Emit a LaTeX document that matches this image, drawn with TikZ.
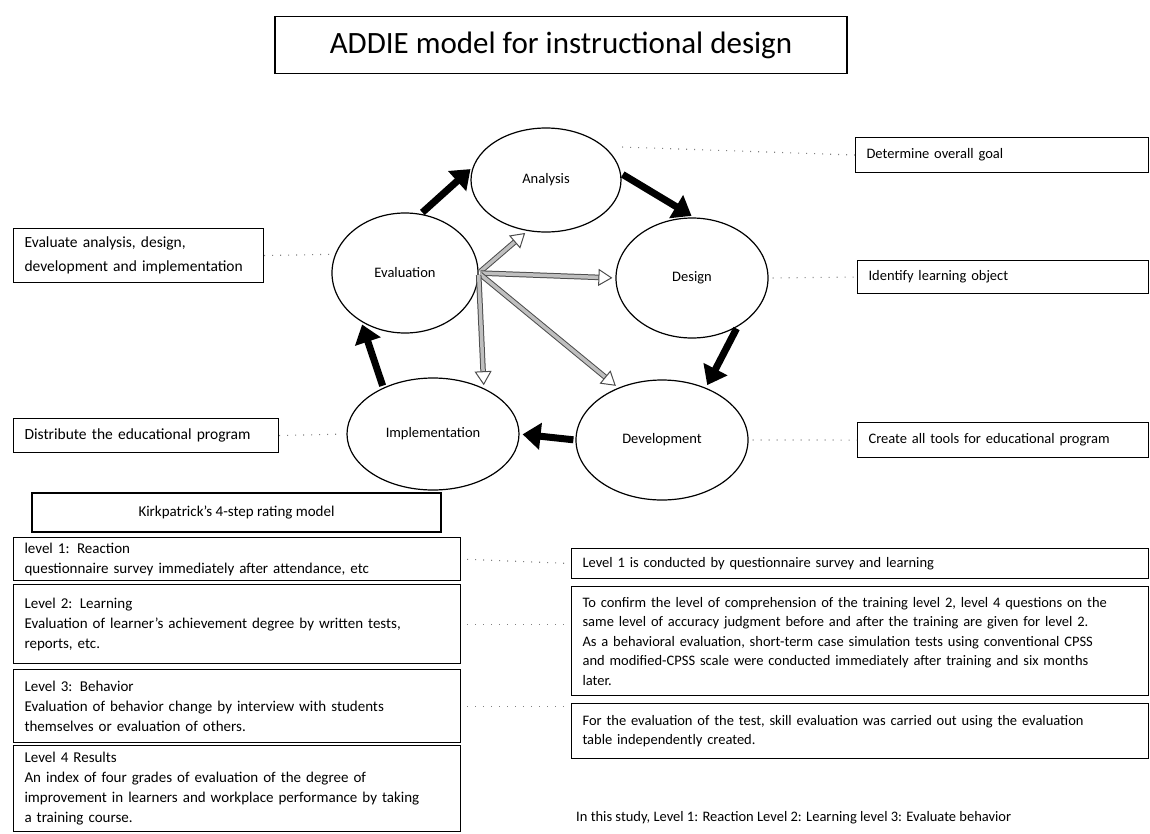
\documentclass[tikz,border=0pt]{standalone}
\usepackage{fontspec}
\setmainfont{Carlito}
\usetikzlibrary{shapes.geometric,arrows.meta}

\begin{document}
\begin{tikzpicture}[x=1pt,y=-1pt,
  phase/.style={ellipse, draw, line width=1.2pt, inner sep=0pt, font=\fontsize{14.5}{16}\selectfont},
  infobox/.style={draw, line width=1.1pt, anchor=north west, align=left, inner xsep=11pt, inner ysep=0pt, font=\fontsize{15}{20}\selectfont},
  link/.style={gray, line width=1.1pt, dash pattern=on 1pt off 7pt},
  cyclearrow/.style={line width=7pt, -{Triangle[length=18pt,width=26pt]}, shorten <=2pt, shorten >=3pt},
  feedback/.style={draw=black!70, double=gray!50, double distance=3.5pt, line width=1pt, -{Triangle[open,length=14pt,width=17pt]}, shorten <=2pt, shorten >=3pt}]

\useasboundingbox (0,0) rectangle (1150,833);

% title
\node[draw, line width=1.3pt, minimum width=572pt, minimum height=57pt, font=\fontsize{31}{36}\selectfont] (title) at (561,45) {ADDIE model for instructional design};

% ADDIE cycle
\node[phase, minimum width=150pt, minimum height=104pt] (analysis) at (546,180) {Analysis};
\node[phase, minimum width=152pt, minimum height=120pt] (design) at (692,278) {Design};
\node[phase, minimum width=172pt, minimum height=120pt] (development) at (662,440) {Development};
\node[phase, minimum width=172pt, minimum height=112pt] (implementation) at (433,434) {Implementation};
\node[phase, minimum width=146pt, minimum height=120pt] (evaluation) at (405,273) {Evaluation};

\draw[cyclearrow] (evaluation.75) -- (analysis.170);
\draw[cyclearrow] (analysis.5) -- (design.88);
\draw[cyclearrow] (design.-47) -- (development.50);
\draw[cyclearrow] (development.west) -- (implementation.east);
\draw[cyclearrow] (implementation.137) -- (evaluation.228);

\foreach \t/\a in {analysis/250, design/180, development/130, implementation/42}
  \draw[feedback] (evaluation.east) -- (\t.\a);

% explanation boxes
\node[infobox, text width=271pt, minimum height=35pt, font=\fontsize{14.5}{18}\selectfont] (goal) at (855,137) {Determine overall goal};
\node[infobox, text width=269pt, minimum height=33pt, font=\fontsize{14.5}{18}\selectfont] (identify) at (857,260) {Identify learning object};
\node[infobox, text width=269pt, minimum height=35pt, font=\fontsize{14.5}{18}\selectfont] (create) at (857,422) {Create all tools for educational program};
\node[infobox, text width=228pt, minimum height=54pt, font=\fontsize{15.5}{24}\selectfont] (evaluate) at (13,228) {Evaluate analysis, design,\\development and implementation};
\node[infobox, text width=243pt, minimum height=34pt, font=\fontsize{15.5}{18}\selectfont] (distribute) at (13,418) {Distribute the educational program};

\draw[link, shorten <=18pt] (analysis.30) -- (goal.west);
\draw[link, shorten <=4pt] (design.east) -- (identify.west);
\draw[link, shorten <=4pt] (development.east) -- (create.west);
\draw[link, shorten >=4pt] (evaluate.east) -- (evaluation.165);
\draw[link, shorten >=4pt] (distribute.east) -- (implementation.west);

% Kirkpatrick
\node[draw, line width=1.1pt, minimum width=409pt, minimum height=39pt, font=\fontsize{15}{18}\selectfont] (kirk) at (236.5,512.5) {Kirkpatrick's 4-step rating model};
\node[infobox, text width=425pt, minimum height=43pt] (level1) at (13,537) {level 1: Reaction\\questionnaire survey immediately after attendance, etc};
\node[infobox, text width=425pt, minimum height=79pt] (level2) at (13,584) {Level 2: Learning\\Evaluation of learner's achievement degree by written tests,\\reports, etc.};
\node[infobox, text width=425pt, minimum height=73pt] (level3) at (13,669) {Level 3: Behavior\\Evaluation of behavior change by interview with students\\themselves or evaluation of others.};
\node[infobox, text width=425pt, minimum height=86pt] (level4) at (13,745) {Level 4 Results\\An index of four grades of evaluation of the degree of\\improvement in learners and workplace performance by taking\\a training course.};

\node[infobox, text width=555pt, minimum height=30pt, font=\fontsize{14.5}{19.5}\selectfont] (study1) at (571,548) {Level 1 is conducted by questionnaire survey and learning};
\node[infobox, text width=555pt, minimum height=109pt, font=\fontsize{14.5}{19.5}\selectfont] (study2) at (571,586) {To confirm the level of comprehension of the training level 2, level 4 questions on the\\same level of accuracy judgment before and after the training are given for level 2.\\As a behavioral evaluation, short-term case simulation tests using conventional CPSS\\and modified-CPSS scale were conducted immediately after training and six months\\later.};
\node[infobox, text width=555pt, minimum height=55pt, font=\fontsize{14.5}{19.5}\selectfont] (study3) at (571,703) {For the evaluation of the test, skill evaluation was carried out using the evaluation\\table independently created.};

\draw[link, shorten <=6pt, shorten >=6pt] (level1.east) -- (study1.west);
\draw[link, shorten <=6pt, shorten >=6pt] (level2.east) -- (level2.east -| study2.west);
\draw[link, shorten <=6pt, shorten >=6pt] (level3.east) -- (level3.east -| study3.west);

\node[anchor=west, inner sep=0pt, font=\fontsize{14.5}{18}\selectfont] (summary) at (576,818) {In this study, Level 1: Reaction Level 2: Learning level 3: Evaluate behavior};
\end{tikzpicture}
\end{document}
